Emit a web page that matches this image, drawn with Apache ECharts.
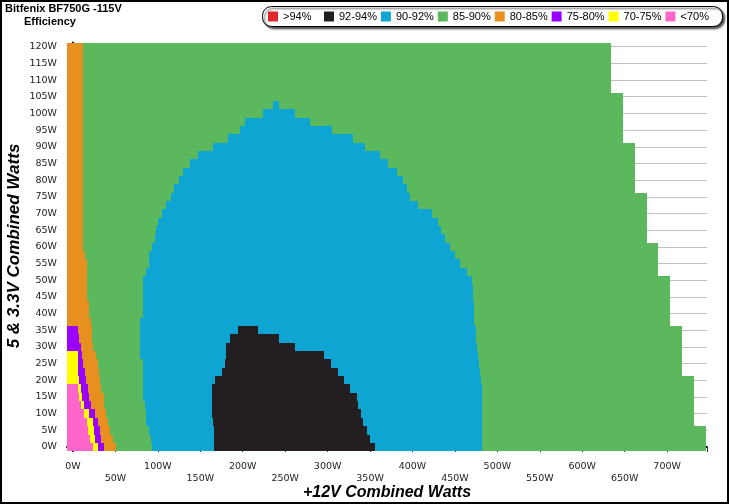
<!DOCTYPE html>
<html><head><meta charset="utf-8">
<script src="https://cdn.jsdelivr.net/npm/echarts@6/dist/echarts.min.js"></script>
<style>html,body{margin:0;padding:0;background:#fff}#c{width:729px;height:504px}</style>
</head><body><div id="c"></div>
<script>
// ---- DATA (watts) ----
const classNames = ['>94%','92-94%','90-92%','85-90%','80-85%','75-80%','70-75%','<70%'];
const classColors = ['#e3262b','#231f20','#0fa5d2','#5cb85c','#e8901f','#9a00ff','#ffff00','#ff66cc'];

// 5V & 3.3V combined load of each row (W)
const rowWatts = [0,2.5,5,7.5,10,12.5,15,17.5,20,22.5,25,27.5,30,32.5,35,37.5,40,42.5,45,47.5,50,52.5,55,57.5,60,62.5,65,67.5,70,72.5,75,77.5,80,82.5,85,87.5,90,92.5,95,97.5,100,102.5,105,107.5,110,112.5,115,117.5,120];

// +12V load where each efficiency band ends in each row (W); null = band absent
const pinkEnd   = [23.1,19.9,17.6,16.1,12.9,9.4,7.0,5.5,null,null,null,null,null,null,null,null,null,null,null,null,null,null,null,null,null,null,null,null,null,null,null,null,null,null,null,null,null,null,null,null,null,null,null,null,null,null,null,null,null];
const yellowEnd = [29.3,25.8,24.6,23.1,18.8,12.9,10.5,9.4,7.0,6.4,5.9,5.5,null,null,null,null,null,null,null,null,null,null,null,null,null,null,null,null,null,null,null,null,null,null,null,null,null,null,null,null,null,null,null,null,null,null,null,null,null];
const purpleEnd = [36.3,33.6,31.6,30.1,25.8,21.1,18.8,17.6,15.2,14.1,11.7,10.5,9.4,7.0,5.9,null,null,null,null,null,null,null,null,null,null,null,null,null,null,null,null,null,null,null,null,null,null,null,null,null,null,null,null,null,null,null,null,null,null];
const orangeEnd = [50.4,46.9,43.4,41.0,39.5,36.3,36.3,32.8,31.6,30.5,30.1,27.0,23.4,22.9,22.6,21.1,19.3,18.8,17.0,16.4,16.4,16.4,16.4,14.1,12.1,12.1,12.1,12.1,12.1,12.1,12.1,12.1,12.1,12.1,12.1,12.1,12.1,12.1,12.1,12.1,12.1,12.1,12.1,12.1,12.1,12.1,12.1,12.1,12.1];
const blueStart = [93.1,91.9,89.6,86.0,85.7,84.9,82.8,82.8,82.8,82.8,82.8,78.9,78.9,78.9,78.9,78.9,82.8,82.8,82.8,82.8,82.8,86.0,89.6,89.6,93.1,96.6,97.8,100.1,104.9,109.6,115.4,119.0,124.9,129.6,137.8,147.3,165.0,182.6,196.8,202.7,223.9,235.7,null,null,null,null,null,null,null];
const blackStart = [166.5,166.5,166.5,165.4,163.4,163.4,163.4,163.4,167.9,175.9,179.0,180.3,180.3,185.0,194.4,null,null,null,null,null,null,null,null,null,null,null,null,null,null,null,null,null,null,null,null,null,null,null,null,null,null,null,null,null,null,null,null,null,null];
const blackEnd   = [355.8,349.9,346.1,341.6,339.3,336.1,335.2,326.4,319.3,312.8,303.9,296.0,262.1,242.3,218.0,null,null,null,null,null,null,null,null,null,null,null,null,null,null,null,null,null,null,null,null,null,null,null,null,null,null,null,null,null,null,null,null,null,null];
const blueEnd = [481.9,481.9,481.9,481.9,481.9,481.9,481.9,481.9,480.7,479.6,478.4,477.2,476.0,474.8,474.8,472.4,472.4,472.4,471.3,471.6,469.7,463.9,456.0,450.1,444.2,438.9,433.6,430.0,423.0,406.5,397.1,393.2,389.2,381.8,371.1,361.7,344.0,329.9,305.1,279.2,261.6,242.7,null,null,null,null,null,null,null];
const dataEnd = [745.8,745.8,745.8,731.6,731.6,731.6,731.6,731.6,731.6,717.6,717.6,717.6,717.6,717.6,717.6,703.4,703.4,703.4,703.4,703.4,703.4,689.2,689.2,689.2,689.2,676.3,676.3,676.3,676.3,676.3,676.3,662.2,662.2,662.2,662.2,662.2,662.2,648.0,648.0,648.0,648.0,648.0,648.0,633.9,633.9,633.9,633.9,633.9,633.9];

// ---- build segments ----
const X_MIN = -7, X_MAX = 747, Y_MIN = -1.25, Y_MAX = 121.25, HALF = 1.25;
const segs = {}; classNames.forEach(n => segs[n] = []);
rowWatts.forEach((w, i) => {
  let x = X_MIN;
  const push = (cls, end) => { if (end != null && end > x) { segs[cls].push([x, end, w]); x = end; } };
  push('<70%', pinkEnd[i]);
  push('70-75%', yellowEnd[i]);
  push('75-80%', purpleEnd[i]);
  push('80-85%', orangeEnd[i]);
  if (blueStart[i] != null) {
    push('85-90%', blueStart[i]);
    if (blackStart[i] != null) { push('90-92%', blackStart[i]); push('92-94%', blackEnd[i]); }
    push('90-92%', blueEnd[i]);
  }
  push('85-90%', dataEnd[i]);
});

function renderItem(params, api) {
  const p0 = api.coord([api.value(0), api.value(2) + HALF]);
  const p1 = api.coord([api.value(1), api.value(2) - HALF]);
  const l = Math.round(p0[0]), r = Math.round(p1[0]);
  const t = Math.round(p0[1]), b = Math.round(p1[1]);
  return { type: 'rect', shape: { x: l, y: t, width: r - l, height: b - t }, style: { fill: api.visual('color') } };
}

const labelFont = { fontFamily: 'DejaVu Sans', fontSize: 9.5, color: '#222' };
const legendBase = { top: 11, orient: 'horizontal', icon: 'rect', itemWidth: 10, itemHeight: 10, itemGap: 4,
  padding: 0, selectedMode: false, z: 10,
  textStyle: { fontFamily: 'Liberation Sans', fontSize: 11, color: '#000' } };
const legendData = classNames.map((n, k) => ({ name: n, itemStyle: { color: classColors[k] } }));
const chart = echarts.init(document.getElementById('c'), null, { renderer: 'canvas' });
chart.setOption({
  animation: false,
  backgroundColor: '#fff',
  title: [
    { text: 'Bitfenix BF750G -115V', left: 5, top: 3, padding: 0, textStyle: { fontFamily: 'Liberation Sans', fontSize: 11, fontWeight: 'bold', color: '#000' } },
    { text: 'Efficiency', left: 24, top: 16, padding: 0, textStyle: { fontFamily: 'Liberation Sans', fontSize: 11, fontWeight: 'bold', color: '#000' } }
  ],
  legend: [
    { ...legendBase, left: 268, data: legendData.slice(0, 1) },
    { ...legendBase, left: 324, data: legendData.slice(1) }
  ],
  grid: [
    { left: 67, top: 42.5, width: 640, height: 408.7, outerBoundsMode: 'none' },
    { left: 73, top: 46.7, width: 634, height: 400.3, outerBoundsMode: 'none' }
  ],
  xAxis: [
    { type: 'value', gridIndex: 0, min: X_MIN, max: X_MAX, axisLine: { show: true, lineStyle: { color: '#000', width: 2 } },
      axisTick: { show: false }, axisLabel: { show: false }, splitLine: { show: false } },
    { type: 'value', gridIndex: 1, min: 0, max: 747, interval: 50, offset: 5,
      axisLine: { show: false }, splitLine: { show: false },
      axisTick: { show: true, length: 5, lineStyle: { color: '#333' } },
      minorTick: { show: true, splitNumber: 5, length: 3, lineStyle: { color: '#000' } },
      axisLabel: { show: true, margin: 9, interval: 0, showMaxLabel: false, lineHeight: 12, ...labelFont,
        formatter: v => (v % 50 !== 0 ? '' : (v % 100 === 0 ? v + 'W' : '\n' + v + 'W')) } }
  ],
  yAxis: [
    { type: 'value', gridIndex: 0, min: Y_MIN, max: Y_MAX, axisLine: { show: true, lineStyle: { color: '#000', width: 2 } },
      axisTick: { show: false }, axisLabel: { show: false }, splitLine: { show: false } },
    { type: 'value', gridIndex: 1, min: 0, max: 120, interval: 5, offset: 6,
      axisLine: { show: false },
      axisTick: { show: true, length: 5, lineStyle: { color: '#333' } },
      minorTick: { show: true, splitNumber: 5, length: 2, lineStyle: { color: '#000' } },
      splitLine: { show: true, lineStyle: { color: '#c0c0c0', width: 1 } },
      axisLabel: { show: true, margin: 10, ...labelFont, formatter: v => v + 'W' } }
  ],
  series: classNames.map((n, k) => ({
    type: 'custom', name: n, xAxisIndex: 0, yAxisIndex: 0, renderItem, clip: false, silent: true,
    itemStyle: { color: classColors[k] }, encode: { x: [0, 1], y: 2 }, data: segs[n]
  })),
  graphic: [
    { type: 'rect', silent: true, z: 1, shape: { x: 262.5, y: 6.5, width: 460, height: 20, r: 9 },
      style: { fill: '#fff', stroke: '#000', lineWidth: 1, shadowColor: 'rgba(0,0,0,0.7)', shadowBlur: 2, shadowOffsetX: 2, shadowOffsetY: 2 } },
    { type: 'rect', silent: true, z: 100, shape: { x: 1, y: 1, width: 727, height: 502 }, style: { fill: 'none', stroke: '#000', lineWidth: 2 } },
    { type: 'text', x: 14, y: 246, rotation: Math.PI / 2, style: { text: '5 & 3.3V Combined Watts', font: 'italic bold 17px "Liberation Sans"', fill: '#000', align: 'center', verticalAlign: 'middle', textAlign: 'center', textVerticalAlign: 'middle' } },
    { type: 'text', x: 387, y: 493, style: { text: '+12V Combined Watts', font: 'italic bold 16px "Liberation Sans"', fill: '#000', align: 'center', verticalAlign: 'middle', textAlign: 'center', textVerticalAlign: 'middle' } }
  ]
});
</script>
</body></html>
